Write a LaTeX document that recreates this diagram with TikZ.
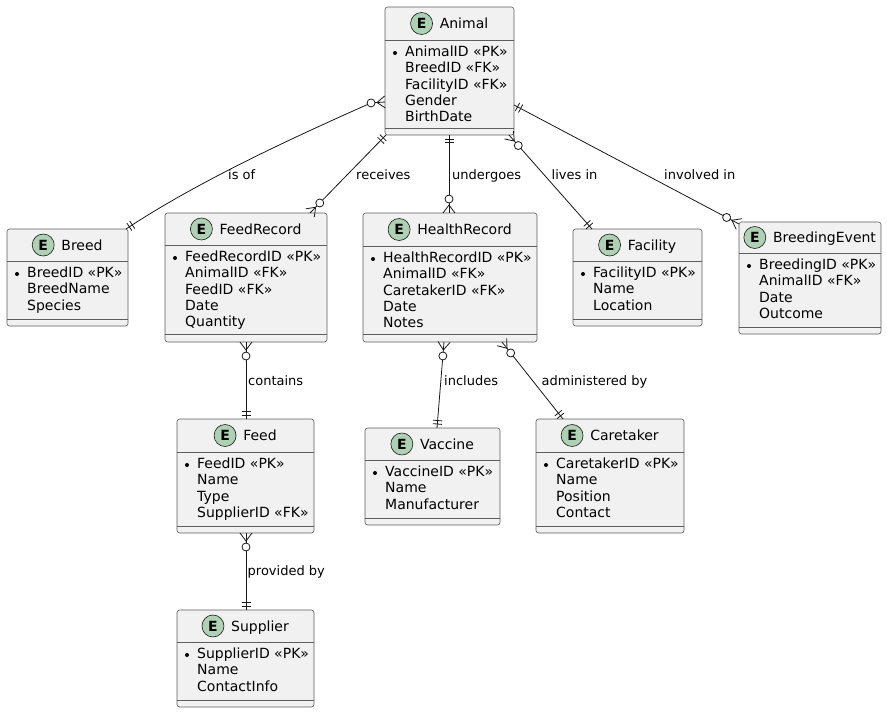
\documentclass[tikz,border=0pt]{standalone}
\usepackage{fontspec}
\setmainfont{DejaVu Sans}
\usetikzlibrary{calc}
\definecolor{efill}{HTML}{F1F1F1}
\definecolor{eline}{HTML}{181818}
\definecolor{iconfill}{HTML}{ADD1B2}

\tikzset{
  ebox/.style={draw=eline!70, line width=0.6pt, fill=efill, rounded corners=2.5pt, inner sep=0pt, outer sep=0pt},
  ediv/.style={draw=eline!70, line width=0.6pt},
  etitle/.style={font=\fontsize{14}{16}\selectfont, inner sep=0pt, text height=10.2pt, text depth=0pt, anchor=center},
  eicon/.style={circle, draw=eline, line width=0.6pt, fill=iconfill, minimum size=22pt, inner sep=0pt, text height=10.2pt, text depth=0pt, font=\fontsize{14}{16}\selectfont\bfseries},
  eattr/.style={font=\fontsize{14}{16}\selectfont, inner sep=0pt, anchor=base west},
  conn/.style={draw=eline, line width=0.8pt},
  lbl/.style={font=\fontsize{13}{15}\selectfont, inner sep=0pt, anchor=base west},
}

\newcommand\entity[9]{%
  \pgfmathsetmacro\eW{#4-#2}%
  \pgfmathsetmacro\eH{#7-#3}%
  \node[ebox, minimum width=\eW pt, minimum height=\eH pt] (#1) at ({(#2+#4)/2},{(#3+#7)/2}) {};
  \draw[ediv] (#2,#5) -- (#4,#5);
  \draw[ediv] (#2,#6) -- (#4,#6);
  \node[etitle] (#1-t) at ({(#2+#4)/2+14.5},{(#3+#5)/2}) {#8};
  \node[eicon] (#1-i) at ([xshift=-18pt]#1-t.west) {E};
  \fill[black] ({#2+10},{#5+13}) circle (2pt);
  \foreach \a [count=\i from 0] in {#9} {
    \node[eattr] (#1-a\i) at ({#2+20},{#5+16.5+\i*16.3}) {\a};
  }
}

\newcommand\onemark[2]{%
  \coordinate (om1) at ($(#1)!4pt!(#2)$);
  \coordinate (om2) at ($(#1)!7.5pt!(#2)$);
  \draw[conn] ($(om1)!4.5pt!90:(#2)$) -- ($(om1)!4.5pt!-90:(#2)$);
  \draw[conn] ($(om2)!4.5pt!90:(#2)$) -- ($(om2)!4.5pt!-90:(#2)$);
}
\newcommand\manymark[2]{%
  \coordinate (mm1) at ($(#1)!8pt!(#2)$);
  \coordinate (mm2) at ($(#1)!14pt!(#2)$);
  \draw[conn] ($(#1)!6pt!90:(#2)$) -- (mm1) -- ($(#1)!6pt!-90:(#2)$);
  \draw[conn, fill=white] (mm2) circle (4pt);
}

\begin{document}
\begin{tikzpicture}[x=1pt, y=-1pt]
\fill[white] (0,0) rectangle (887,713);
\useasboundingbox (0,0) rectangle (887,713);

\entity{animal}{385}{7}{514}{40}{128}{135}{Animal}{AnimalID «PK»,BreedID «FK»,FacilityID «FK»,Gender,BirthDate}
\entity{breed}{7}{229}{128}{261}{319}{326}{Breed}{BreedID «PK»,BreedName,Species}
\entity{feedrec}{165}{213}{327}{245}{334}{342}{FeedRecord}{FeedRecordID «PK»,AnimalID «FK»,FeedID «FK»,Date,Quantity}
\entity{health}{363}{213}{537}{246}{334}{342}{HealthRecord}{HealthRecordID «PK»,AnimalID «FK»,CaretakerID «FK»,Date,Notes}
\entity{facility}{573}{229}{702}{261}{319}{326}{Facility}{FacilityID «PK»,Name,Location}
\entity{breeding}{739}{222}{881}{253}{327}{334}{BreedingEvent}{BreedingID «PK»,AnimalID «FK»,Date,Outcome}
\entity{feed}{177}{419}{314}{452}{526}{533}{Feed}{FeedID «PK»,Name,Type,SupplierID «FK»}
\entity{vaccine}{365}{428}{500}{460}{518}{525}{Vaccine}{VaccineID «PK»,Name,Manufacturer}
\entity{caretaker}{536}{419}{684}{452}{526}{533}{Caretaker}{CaretakerID «PK»,Name,Position,Contact}
\entity{supplier}{177}{610}{314}{642}{700}{707}{Supplier}{SupplierID «PK»,Name,ContactInfo}

% is of
\coordinate (e1a) at ($(animal.north west)+(0,95)$);
\coordinate (e1d) at ($(e1a)+(-30,2)$);
\coordinate (e1c) at ($(e1a)!14pt!(e1d)$);
\coordinate (e1b) at ($(breed.north west)+(119,0)$);
\coordinate (e1p) at ($(e1c)+(-72,32)$);
\coordinate (e1q) at ($(e1b)+(74,-49)$);
\draw[conn] (e1a) -- (e1c) .. controls (e1p) and (e1q) .. (e1b);
\manymark{e1a}{e1d}
\onemark{e1b}{e1q}
\node[lbl] (l1) at (228,179) {is of};

% receives
\coordinate (e2a) at ($(animal.north west)+(1,128)$);
\coordinate (e2b) at ($(feedrec.north west)+(145,0)$);
\draw[conn] (e2a) -- (e2b);
\onemark{e2a}{e2b}
\manymark{e2b}{e2a}
\node[lbl] (l2) at (356,179) {receives};

% undergoes
\coordinate (e3a) at ($(animal.south)+(-0.5,0)$);
\coordinate (e3b) at ($(health.north)+(-1,0)$);
\draw[conn] (e3a) -- (e3b);
\onemark{e3a}{e3b}
\manymark{e3b}{e3a}
\node[lbl] (l3) at (452,179) {undergoes};

% lives in
\coordinate (e4a) at ($(animal.south east)+(-5,0)$);
\coordinate (e4b) at ($(facility.north west)+(19,0)$);
\draw[conn] (e4a) -- (e4b);
\manymark{e4a}{e4b}
\onemark{e4b}{e4a}
\node[lbl] (l4) at (551.5,179) {lives in};

% involved in
\coordinate (e5a) at ($(animal.north east)+(0,98)$);
\coordinate (e5b) at ($(breeding.north west)+(0,2)$);
\draw[conn] (e5a) -- (e5b);
\onemark{e5a}{e5b}
\manymark{e5b}{e5a}
\node[lbl] (l5) at (664,179) {involved in};

% contains
\coordinate (e6a) at (feedrec.south);
\coordinate (e6b) at ($(feed.north)+(0.5,0)$);
\draw[conn] (e6a) -- (e6b);
\manymark{e6a}{e6b}
\onemark{e6b}{e6a}
\node[lbl] (l6) at (248,385) {contains};

% includes
\coordinate (e7a) at ($(health.south)+(-6,0)$);
\coordinate (e7b) at ($(vaccine.north)+(4.5,0)$);
\draw[conn] (e7a) -- (e7b);
\manymark{e7a}{e7b}
\onemark{e7b}{e7a}
\node[lbl] (l7) at (444,385) {includes};

% administered by
\coordinate (e8a) at ($(health.south east)+(-35,0)$);
\coordinate (e8b) at ($(caretaker.north west)+(27,0)$);
\draw[conn] (e8a) -- (e8b);
\manymark{e8a}{e8b}
\onemark{e8b}{e8a}
\node[lbl] (l8) at (541.5,385) {administered by};

% provided by
\coordinate (e9a) at ($(feed.south)+(0.5,0)$);
\coordinate (e9b) at ($(supplier.north)+(0.5,0)$);
\draw[conn] (e9a) -- (e9b);
\manymark{e9a}{e9b}
\onemark{e9b}{e9a}
\node[lbl] (l9) at (247.5,575) {provided by};
\end{tikzpicture}
\end{document}
